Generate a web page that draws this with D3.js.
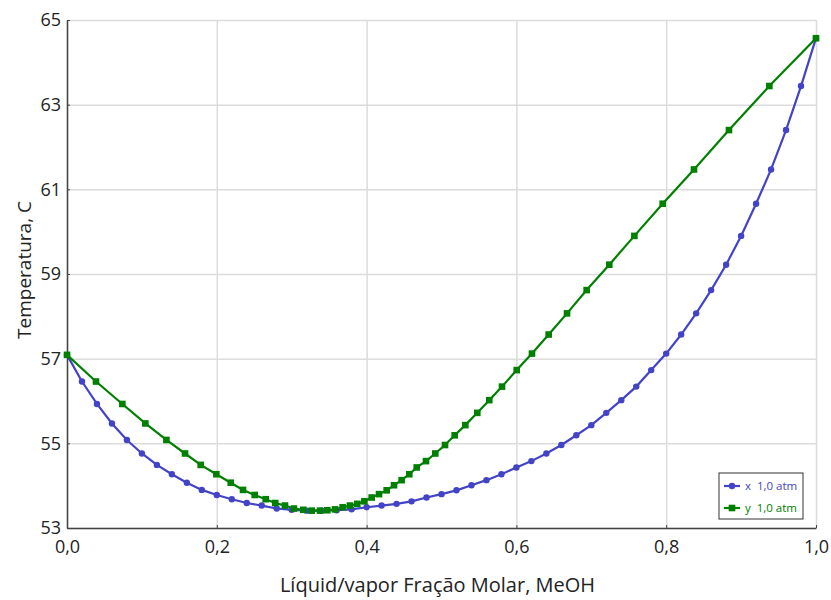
<!DOCTYPE html>
<html>
<head>
<meta charset="utf-8">
<script src="https://cdn.jsdelivr.net/npm/d3@7"></script>
<style>
  body { margin: 0; background: #fff; }
  text { font-family: "Open Sans", "Noto Sans", sans-serif; }
  .grid line { stroke: #dcdcdc; stroke-width: 1.5; }
  .grid .domain { display: none; }
  .axis .domain { stroke: #444; stroke-width: 1.5; }
  .axis line { stroke: #444; }
  .axis text { font-size: 18px; fill: #222; }
</style>
</head>
<body>
<svg id="chart"></svg>
<script>
// liquid composition (x), temperature and vapour composition (y)
var xLiquid = [0, 0.02, 0.04, 0.06, 0.08, 0.10, 0.12, 0.14, 0.16, 0.18,
  0.20, 0.22, 0.24, 0.26, 0.28, 0.30, 0.32, 0.34, 0.36, 0.38,
  0.40, 0.42, 0.44, 0.46, 0.48, 0.50, 0.52, 0.54, 0.56, 0.58,
  0.60, 0.62, 0.64, 0.66, 0.68, 0.70, 0.72, 0.74, 0.76, 0.78,
  0.80, 0.82, 0.84, 0.86, 0.88, 0.90, 0.92, 0.94, 0.96, 0.98, 1.0];

var temps = [57.09, 56.46, 55.93, 55.47, 55.08, 54.76, 54.49, 54.27, 54.07, 53.90,
  53.78, 53.68, 53.59, 53.53, 53.46, 53.43, 53.41, 53.41, 53.42, 53.44,
  53.49, 53.53, 53.57, 53.63, 53.72, 53.80, 53.89, 54.01, 54.13, 54.27,
  54.43, 54.58, 54.76, 54.96, 55.19, 55.43, 55.72, 56.02, 56.34, 56.73,
  57.12, 57.57, 58.07, 58.62, 59.22, 59.90, 60.66, 61.47, 62.40, 63.44, 64.57];

var yVapor = [0, 0.0387, 0.0739, 0.1046, 0.1327, 0.1576, 0.1785, 0.1994, 0.2186, 0.2350,
  0.2506, 0.2653, 0.2780, 0.2910, 0.3030, 0.3155, 0.3267, 0.3378, 0.3476, 0.3578,
  0.3680, 0.3778, 0.3876, 0.3970, 0.4068, 0.4166, 0.4268, 0.4366, 0.4468, 0.4570,
  0.4669, 0.4793, 0.4917, 0.5047, 0.5176, 0.5318, 0.5478, 0.5638, 0.5808, 0.6004,
  0.6208, 0.6431, 0.6676, 0.6938, 0.7240, 0.7575, 0.7953, 0.8371, 0.8838, 0.9377, 1.0];

var xTicks = [0, 0.2, 0.4, 0.6, 0.8, 1.0];
var yTicks = [53, 55, 57, 59, 61, 63, 65];
var seriesNames = ['x  1,0 atm', 'y  1,0 atm'];
var colors = ['#4343c8', '#008000'];

var size = { width: 831, height: 600, margin: { top: 20, right: 15, bottom: 72, left: 67 } };
var margin = size.margin;
var width = size.width - margin.left - margin.right;
var height = size.height - margin.top - margin.bottom;

var x = d3.scaleLinear().domain([0, 1]).range([0, width]);
var y = d3.scaleLinear().domain([53, 65]).range([height, 0]);

var svg = d3.select('#chart')
  .attr('width', size.width)
  .attr('height', size.height);

var chart = svg.append('g')
  .attr('transform', `translate(${ margin.left }, ${ margin.top })`);

chart.append('g')
  .attr('class', 'grid')
  .call(d3.axisBottom(x).tickValues(xTicks).tickSize(height).tickFormat(''));

chart.append('g')
  .attr('class', 'grid')
  .call(d3.axisLeft(y).tickValues(yTicks).tickSize(-width).tickFormat(''));

var fmt = d => d3.format('.1f')(d).replace('.', ',');

chart.append('g')
  .attr('class', 'axis x')
  .attr('transform', `translate(0, ${ height })`)
  .call(d3.axisBottom(x).tickValues(xTicks).tickSizeInner(-3).tickSizeOuter(0).tickPadding(12).tickFormat(fmt));

chart.append('g')
  .attr('class', 'axis y')
  .call(d3.axisLeft(y).tickValues(yTicks).tickSizeInner(-3).tickSizeOuter(0).tickPadding(6).tickFormat(d3.format('d')));

var liquid = xLiquid.map((d, i) => ({ c: d, t: temps[i] }));
var vapor = yVapor.map((d, i) => ({ c: d, t: temps[i] }));

var line = d3.line().x(d => x(d.c)).y(d => y(d.t));

chart.append('path')
  .datum(liquid)
  .attr('fill', 'none')
  .attr('stroke', colors[0])
  .attr('stroke-width', 2.2)
  .attr('d', line);

chart.append('path')
  .datum(vapor)
  .attr('fill', 'none')
  .attr('stroke', colors[1])
  .attr('stroke-width', 2.2)
  .attr('d', line);

chart.selectAll('.pt-x')
  .data(liquid)
  .enter().append('circle')
    .attr('class', 'pt-x')
    .attr('cx', d => x(d.c))
    .attr('cy', d => y(d.t))
    .attr('r', 3.2)
    .attr('fill', colors[0]);

chart.selectAll('.pt-y')
  .data(vapor)
  .enter().append('rect')
    .attr('class', 'pt-y')
    .attr('x', d => x(d.c) - 3.3)
    .attr('y', d => y(d.t) - 3.3)
    .attr('width', 6.6)
    .attr('height', 6.6)
    .attr('fill', colors[1]);

// axis titles
svg.append('text')
  .attr('x', margin.left + width / 2 - 4)
  .attr('y', 592)
  .attr('text-anchor', 'middle')
  .attr('font-size', 20)
  .attr('fill', '#222')
  .text('Líquid/vapor Fração Molar, MeOH');

svg.append('text')
  .attr('transform', `translate(31, ${ margin.top + height / 2 - 4 }) rotate(-90)`)
  .attr('text-anchor', 'middle')
  .attr('font-size', 19)
  .attr('fill', '#222')
  .text('Temperatura, C');

// legend
var legend = svg.append('g').attr('transform', 'translate(719, 473)');
legend.append('rect')
  .attr('width', 84)
  .attr('height', 46)
  .attr('fill', '#fff')
  .attr('stroke', '#333')
  .attr('stroke-width', 1);

seriesNames.forEach((name, i) => {
  var row = legend.append('g').attr('transform', `translate(0, ${ 13 + i * 22 })`);
  row.append('line')
    .attr('x1', 5).attr('x2', 21)
    .attr('stroke', colors[i]).attr('stroke-width', 2.2);
  if (i === 0) {
    row.append('circle').attr('cx', 13).attr('r', 3.2).attr('fill', colors[i]);
  } else {
    row.append('rect').attr('x', 9.7).attr('y', -3.3).attr('width', 6.6).attr('height', 6.6).attr('fill', colors[i]);
  }
  row.append('text')
    .attr('x', 26)
    .attr('dy', '0.35em')
    .attr('font-size', 11.5)
    .attr('fill', colors[i])
    .attr('xml:space', 'preserve')
    .text(name);
});
</script>
</body>
</html>
